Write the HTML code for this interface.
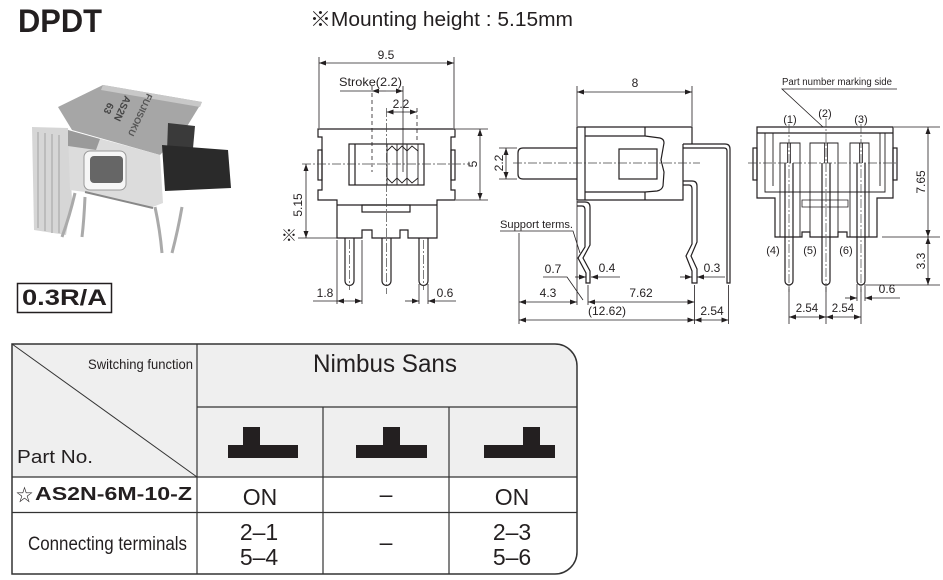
<!DOCTYPE html>
<html><head><meta charset="utf-8">
<style>
html,body{margin:0;padding:0;background:#fff;width:943px;height:580px;overflow:hidden}
svg{display:block}
.t{font-family:"Liberation Sans","Noto Sans CJK JP",sans-serif;fill:#231f20}
.o{fill:none;stroke:#231f20;stroke-width:1.2}
.d{fill:none;stroke:#231f20;stroke-width:0.8}
.c{fill:none;stroke:#444;stroke-width:0.7;stroke-dasharray:9 2 2 2}
.s{font-size:12px}
</style></head><body>
<svg width="943" height="580" viewBox="0 0 943 580" xmlns="http://www.w3.org/2000/svg">
<defs>
<marker id="a" markerWidth="7" markerHeight="5" refX="7" refY="2.5" orient="auto-start-reverse" markerUnits="userSpaceOnUse"><path d="M0,0L7,2.5L0,5z" fill="#231f20"/></marker>
</defs>

<!-- Titles -->
<text class="t" x="18" y="32" font-size="32" font-weight="bold" textLength="84" lengthAdjust="spacingAndGlyphs">DPDT</text>
<text class="t" x="310" y="26" font-size="20" textLength="263" lengthAdjust="spacingAndGlyphs">※Mounting height : 5.15mm</text>

<!-- Photo approximation -->
<g>
<polygon points="32,127 68,128 72,200 66,235 34,230" fill="#d6d6d6"/>
<path d="M38,132V228M45,133V231M52,134V233M59,135V233" stroke="#bcbcbc" stroke-width="2" fill="none"/>
<polygon points="58,107 103,85 202,102 186,128 160,155 72,130" fill="#a6a6a6"/>
<polygon points="103,85 202,102 200,107 101,90" fill="#c8c8c8"/>
<polygon points="68,130 160,155 163,203 150,208 85,192 70,190" fill="#dcdcdc"/>
<polygon points="68,130 100,139 96,150 68,146" fill="#9a9a9a"/>
<rect x="84" y="151" width="42" height="39" rx="6" fill="#f6f6f6" stroke="#999"/>
<rect x="90" y="156" width="33" height="27" rx="4" fill="#666"/>
<path d="M85,192L153,208" stroke="#888" stroke-width="2" fill="none"/>
<polygon points="168,123 195,126 190,182 166,180" fill="#3a3a3a"/>
<polygon points="162,145 228,150 231,188 165,191" fill="#2a2a2a"/>
<path d="M75,193Q70,215 62,237M85,197Q84,220 82,237M155,207Q160,230 162,253M182,207Q178,230 172,253" stroke="#aaa" stroke-width="3" fill="none"/>
<text class="t" transform="translate(108,102) rotate(115)" font-size="10" font-weight="bold" style="fill:#444">63</text>
<text class="t" transform="translate(125,95) rotate(115)" font-size="10" font-weight="bold" style="fill:#444">AS2N</text>
<text class="t" transform="translate(147,93) rotate(115)" font-size="9" font-weight="bold" style="fill:#555">FUJISOKU</text>
</g>

<!-- 0.3R/A -->
<rect x="17.5" y="283.5" width="94" height="29" fill="none" stroke="#231f20" stroke-width="1.5"/>
<text class="t" x="22" y="305" font-size="22" font-weight="bold" textLength="85" lengthAdjust="spacingAndGlyphs">0.3R/A</text>

<!-- ===== Front view ===== -->
<g class="o">
<path d="M318,129H455V137H451V190H455V200H437V238H408V230H400V238H372V230H362V238H337V200H318V190H322V137H318Z"/>
<path d="M337,205H437"/>
<rect x="362" y="205" width="48" height="7"/>
<rect x="318" y="150" width="4" height="30"/>
<rect x="451" y="150" width="4" height="30"/>
<rect x="349" y="144" width="75" height="41"/>
<path d="M355,144V185"/>
<path d="M387,144V185M397,144V185M407,144V185M418,144V185" stroke-width="0.9"/>
<path d="M387,151L392,146L397,151L402,146L407,151L412,146L418,151M387,178L392,183L397,178L402,183L407,178L412,183L418,178" stroke-width="0.9"/>
<path d="M345,238V281A4.5,4.5 0 0 0 354,281V238M382,238V281A4.5,4.5 0 0 0 391,281V238M419,238V281A4.5,4.5 0 0 0 428,281V238"/>
</g>
<path class="c" d="M302,164H470M386.5,108V294M349.5,240V290M423.5,240V290"/>
<path class="d" stroke-dasharray="4 3" d="M372,86V172M417,108V142"/>
<path class="d" d="M403,86V172"/>
<!-- 9.5 -->
<path class="d" d="M319,57V128M454,57V128"/>
<path class="d" marker-start="url(#a)" marker-end="url(#a)" d="M319,63H454"/>
<text class="t s" x="386" y="59" text-anchor="middle">9.5</text>
<!-- Stroke -->
<path class="d" d="M340,91H372"/>
<path class="d" marker-end="url(#a)" d="M386,91H372"/>
<path class="d" marker-end="url(#a)" d="M386,91H403"/>
<text class="t s" x="339" y="86" textLength="63" lengthAdjust="spacingAndGlyphs">Stroke(2.2)</text>
<!-- 2.2 -->
<path class="d" marker-start="url(#a)" marker-end="url(#a)" d="M386.5,112H417"/>
<text class="t s" x="401" y="108" text-anchor="middle">2.2</text>
<!-- 5 -->
<path class="d" d="M456,129H488M456,200H488"/>
<path class="d" marker-start="url(#a)" marker-end="url(#a)" d="M480,129V200"/>
<text class="t s" transform="translate(477,164) rotate(-90)" text-anchor="middle">5</text>
<!-- 5.15 -->
<path class="d" d="M298,238H337"/>
<path class="d" marker-start="url(#a)" marker-end="url(#a)" d="M306,164V238"/>
<text class="t s" transform="translate(302,205) rotate(-90)" text-anchor="middle">5.15</text>
<text class="t" x="281" y="241" font-size="16">※</text>
<!-- 1.8 -->
<path class="d" d="M337,240V304M362,240V304M313,301H337"/>
<path class="d" marker-start="url(#a)" marker-end="url(#a)" d="M337,301H362"/>
<text class="t s" x="325" y="297" text-anchor="middle">1.8</text>
<!-- 0.6 -->
<path class="d" d="M419,284V304M428,284V304"/>
<path class="d" marker-end="url(#a)" d="M405,301H419"/>
<path class="d" marker-end="url(#a)" d="M456,301H428"/>
<text class="t s" x="445" y="297" text-anchor="middle">0.6</text>

<!-- ===== Side view ===== -->
<g class="o">
<path d="M683,144V200H577V127H692V144"/>
<path d="M585,127V200"/>
<path d="M585,136H645M585,192H645M645,127V136M645,192V200"/>
<path d="M645,136L660,138Q664,139 664,143L661,160L664,172L663,186Q662,190 657,191L645,192"/>
<rect x="619" y="149" width="38" height="30"/>
<path d="M577,148H523Q518,148 518,153V174Q518,179 523,179H577"/>
<path d="M683,144H725Q730,144 730,149V283H727V151Q727,148 724,148H683"/>
<path d="M683,181H692Q697,181 697,186V242L691,256L697,269V283H692V271L686,256L692,244V189Q692,185 689,185H683"/>
<path d="M577,202H585Q590,202 590,207V245L583,258L590,271V283H586V273L578,258L585,247V210Q585,206 582,206H577"/>
</g>
<path class="c" d="M513,163H700"/>
<!-- 8 -->
<path class="d" d="M577,86V126M692,86V126"/>
<path class="d" marker-start="url(#a)" marker-end="url(#a)" d="M577,92H692"/>
<text class="t s" x="635" y="87" text-anchor="middle">8</text>
<!-- 2.2 -->
<path class="d" d="M499,148H517M499,179H517"/>
<path class="d" marker-start="url(#a)" marker-end="url(#a)" d="M506,148V179"/>
<text class="t s" transform="translate(503,163) rotate(-90)" text-anchor="middle">2.2</text>
<!-- labels -->
<text class="t" x="500" y="228" font-size="11" textLength="73" lengthAdjust="spacingAndGlyphs">Support terms.</text>
<path class="d" d="M500,231H573L580,253"/>
<text class="t s" x="553" y="273" text-anchor="middle">0.7</text>
<path class="d" d="M543,277H567L583,300"/>
<text class="t s" x="607" y="272" text-anchor="middle">0.4</text>
<path class="d" marker-end="url(#a)" d="M575,277H586"/>
<path class="d" marker-end="url(#a)" d="M620,277H591"/>
<text class="t s" x="712" y="272" text-anchor="middle">0.3</text>
<path class="d" marker-end="url(#a)" d="M680,277H692"/>
<path class="d" marker-end="url(#a)" d="M725,277H697"/>
<!-- bottom dims -->
<path class="d" d="M519,233V324M577,201V305M588,285V305M694.5,285V324M728.5,285V324"/>
<path class="d" marker-start="url(#a)" marker-end="url(#a)" d="M519,302H577"/>
<path class="d" marker-start="url(#a)" marker-end="url(#a)" d="M588,302H694.5"/>
<path class="d" marker-start="url(#a)" marker-end="url(#a)" d="M519,320H694.5"/>
<path class="d" marker-start="url(#a)" marker-end="url(#a)" d="M694.5,320H728.5"/>
<text class="t s" x="548" y="297" text-anchor="middle">4.3</text>
<text class="t s" x="641" y="297" text-anchor="middle">7.62</text>
<text class="t s" x="607" y="315" text-anchor="middle">(12.62)</text>
<text class="t s" x="712" y="315" text-anchor="middle">2.54</text>

<!-- ===== Right view ===== -->
<g class="o">
<path d="M757,127H893V198H877V237H847V232H838V237H810V232H802V237H775V198H757Z"/>
<path d="M757,133H893"/>
<path d="M765,133V192H885V133M773,133V186M880,133V186" stroke-width="0.9"/>
<rect x="753" y="148" width="4" height="32"/>
<rect x="893" y="148" width="4" height="32"/>
<path d="M780,237V143H800V237M810,232V143H838V232M850,237V143H869V237" stroke-width="0.9"/>
<path d="M802,200H848V207H802Z" stroke-width="0.8"/>
<path d="M785,163V281A4,4 0 0 0 793,281V163M822,163V281A4,4 0 0 0 830,281V163M857,163V281A4,4 0 0 0 865,281V163"/>
<path d="M787.5,143V163M790.5,143V163M824.5,143V163M827.5,143V163M859.5,143V163M862.5,143V163" stroke-width="0.8"/>
</g>
<path class="c" d="M748,163H898M789,124V292M826,118V292M861,124V292"/>
<text class="t" x="782" y="85" font-size="10" textLength="110" lengthAdjust="spacingAndGlyphs">Part number marking side</text>
<path class="d" d="M897,89H782L823,127"/>
<text class="t" x="790" y="123" font-size="11" text-anchor="middle">(1)</text>
<text class="t" x="825" y="117" font-size="11" text-anchor="middle">(2)</text>
<text class="t" x="861" y="123" font-size="11" text-anchor="middle">(3)</text>
<text class="t" x="773" y="254" font-size="11" text-anchor="middle">(4)</text>
<text class="t" x="810" y="254" font-size="11" text-anchor="middle">(5)</text>
<text class="t" x="846" y="254" font-size="11" text-anchor="middle">(6)</text>
<path class="d" d="M894,127H940M882,237H940M866,285H940"/>
<path class="d" marker-start="url(#a)" marker-end="url(#a)" d="M928,127V237"/>
<path class="d" marker-start="url(#a)" marker-end="url(#a)" d="M928,237V285"/>
<text class="t s" transform="translate(925,182) rotate(-90)" text-anchor="middle">7.65</text>
<text class="t s" transform="translate(925,261) rotate(-90)" text-anchor="middle">3.3</text>
<path class="d" d="M857,284V301M865,284V301"/>
<path class="d" marker-end="url(#a)" d="M845,298H857"/>
<path class="d" marker-end="url(#a)" d="M900,298H865"/>
<text class="t s" x="887" y="293" text-anchor="middle">0.6</text>
<path class="d" d="M789,287V324M826,287V324M861,287V324"/>
<path class="d" marker-start="url(#a)" marker-end="url(#a)" d="M789,317H826"/>
<path class="d" marker-start="url(#a)" marker-end="url(#a)" d="M826,317H861"/>
<text class="t" x="807" y="312" font-size="11.5" text-anchor="middle">2.54</text>
<text class="t" x="843" y="312" font-size="11.5" text-anchor="middle">2.54</text>

<!-- ===== Table ===== -->
<path d="M12,344H555A22,22 0 0 1 577,366V477H12Z" fill="#efefef"/>
<path d="M12,344H555A22,22 0 0 1 577,366V552A22,22 0 0 1 555,574H12Z" fill="none" stroke="#333" stroke-width="1.5"/>
<path d="M197,344V574M197,407H577M12,477H577M12,512.5H577M323,407V574M449,407V574" stroke="#333" stroke-width="1.2" fill="none"/>
<path d="M12,344L197,477" stroke="#333" stroke-width="1" fill="none"/>
<text class="t" x="193" y="369" font-size="14" text-anchor="end" textLength="105" lengthAdjust="spacingAndGlyphs">Switching function</text>
<text class="t" x="17" y="463" font-size="18" textLength="76" lengthAdjust="spacingAndGlyphs">Part No.</text>
<text class="t" x="313" y="372" font-size="25" textLength="144" lengthAdjust="spacingAndGlyphs">Nimbus Sans</text>
<!-- switch icons -->
<g fill="#231f20">
<rect x="228" y="445" width="70" height="13"/><rect x="243" y="427" width="17" height="19"/>
<rect x="356" y="445" width="71" height="13"/><rect x="383" y="427" width="17" height="19"/>
<rect x="484" y="445" width="71" height="13"/><rect x="523" y="427" width="17" height="19"/>
</g>
<!-- rows -->
<text class="t" x="16" y="501" font-size="17">☆</text>
<text class="t" x="35" y="500" font-size="18" font-weight="bold" textLength="157" lengthAdjust="spacingAndGlyphs">AS2N-6M-10-Z</text>
<text class="t" x="260" y="505" font-size="23" text-anchor="middle">ON</text>
<text class="t" x="386" y="502" font-size="23" text-anchor="middle">–</text>
<text class="t" x="512" y="505" font-size="23" text-anchor="middle">ON</text>
<text class="t" x="28" y="550" font-size="19" textLength="159" lengthAdjust="spacingAndGlyphs">Connecting terminals</text>
<text class="t" x="259" y="540" font-size="23" text-anchor="middle">2–1</text>
<text class="t" x="259" y="565" font-size="23" text-anchor="middle">5–4</text>
<text class="t" x="386" y="550" font-size="23" text-anchor="middle">–</text>
<text class="t" x="512" y="540" font-size="23" text-anchor="middle">2–3</text>
<text class="t" x="512" y="565" font-size="23" text-anchor="middle">5–6</text>
</svg>
</body></html>
